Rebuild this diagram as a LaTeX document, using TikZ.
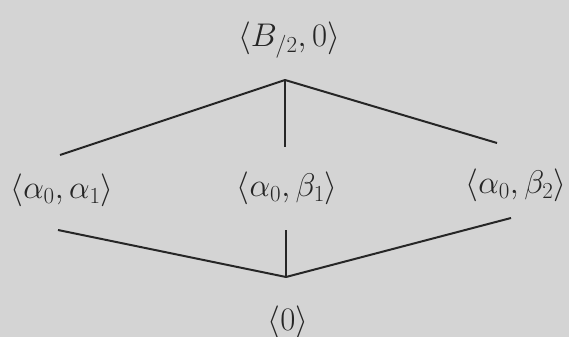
\RequirePackage{fix-cm}
\documentclass[tikz,border=0pt]{standalone}
\usepackage{amsmath}
\usepackage{tikz}
\usetikzlibrary{positioning, calc}

\begin{document}
\begin{tikzpicture}[
    lbl/.style={font=\fontsize{28}{32}\selectfont, inner sep=2pt, text=black!85},
    edge/.style={line width=1.7pt, black!85}
  ]
    \fill[black!17] (0,0) rectangle (17.07,10.11);
    \useasboundingbox (0,0) rectangle (17.07,10.11);
    \node[lbl] (top) at (8.67,8.91) {$\langle B_{/2}, 0\rangle$};
    \node[lbl] (a1) at (1.86,4.41) {$\langle \alpha_0, \alpha_1\rangle$};
    \node[lbl] (b1) at (8.62,4.47) {$\langle \alpha_0, \beta_1\rangle$};
    \node[lbl] (b2) at (15.48,4.56) {$\langle \alpha_0, \beta_2\rangle$};
    \node[lbl] (zero) at (8.64,0.45) {$\langle 0\rangle$};
    \coordinate (up) at (8.55,7.71);
    \coordinate (down) at (8.58,1.80);
    % upper half
    \draw[edge] (up) -- ($(a1)+(-0.06,1.05)$);
    \draw[edge] (up) -- (up |- {$(b1)+(0,1.23)$});
    \draw[edge] (up) -- ($(b2)+(-0.57,1.26)$);
    % lower half
    \draw[edge] (down) -- ($(a1)+(-0.12,-1.2)$);
    \draw[edge] (down) -- (down |- {$(b1)+(0,-1.26)$});
    \draw[edge] (down) -- ($(b2)+(-0.15,-0.99)$);
\end{tikzpicture}
\end{document}
